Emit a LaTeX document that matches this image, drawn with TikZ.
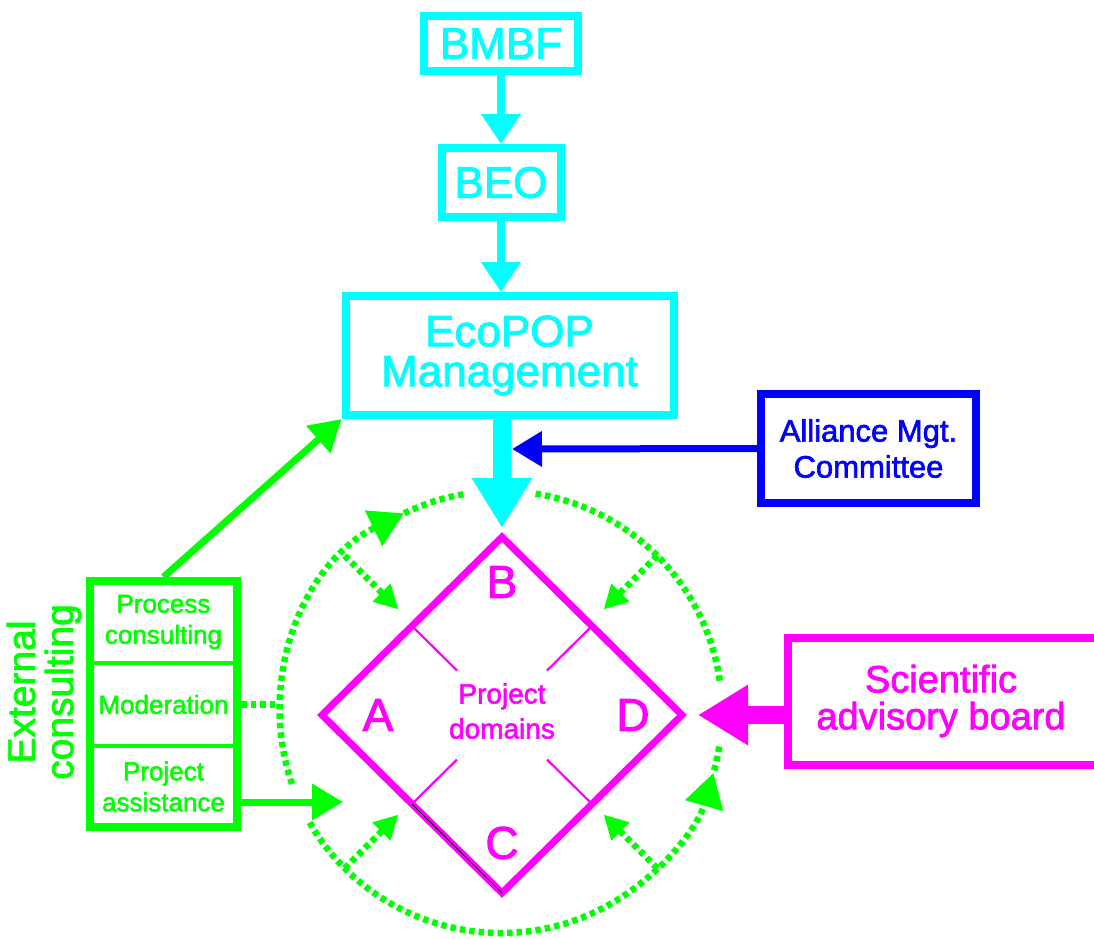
\documentclass[tikz,border=0pt]{standalone}
\usepackage{fontspec}
\setmainfont{Liberation Sans}[FakeBold=2]
\usetikzlibrary{positioning}
\usetikzlibrary{calc}
\usetikzlibrary{fit, shapes.geometric, arrows.meta}
\definecolor{ecocyan}{RGB}{0,255,255}
\definecolor{ecogreen}{RGB}{0,255,0}
\definecolor{ecomag}{RGB}{255,0,255}
\definecolor{ecoblue}{RGB}{0,0,255}
\tikzset{
	x=1pt, y=1pt,
	every node/.style={align=center, inner sep=0pt},
	cbox/.style={draw=ecocyan, text=ecocyan, line width=8pt, font=\fontsize{44}{40}\selectfont},
	bbox/.style={draw=ecoblue, text=ecoblue, line width=8pt, font=\fontsize{31}{36}\selectfont},
	mbox/.style={draw=ecomag, line width=7.5pt},
	mtext/.style={text=ecomag, font=\fontsize{38}{37}\selectfont},
	cell/.style={draw=ecogreen, text=ecogreen, line width=4pt, outer sep=0pt, minimum width=147pt, font=\fontsize{26}{31}\selectfont},
	corner/.style={text=ecomag, font=\fontsize{46}{46}\selectfont},
	cyanarrow/.style={draw=ecocyan, line width=8pt, -{Triangle[length=30pt, width=38pt]}},
	bigarrow/.style={line width=18pt, -{Triangle[length=50pt, width=57pt]}},
	bluearrow/.style={draw=ecoblue, line width=7pt, -{Triangle[length=30pt, width=34pt]}},
	greenarrow/.style={draw=ecogreen, line width=7pt, -{Triangle[length=31pt, width=35pt]}},
	ringline/.style={draw=ecogreen, line width=6.5pt, dash pattern=on 5.5pt off 4pt},
	ringtip/.style={-{Triangle[length=34pt, width=38pt]}},
	spoke/.style={ringline, -{Triangle[length=24pt, width=24pt]}}
}

\begin{document}
\begin{tikzpicture}
	\useasboundingbox (0,0) rectangle (1094,-938);

	% funding chain
	\node (bmbf) [cbox, minimum width=154, minimum height=55] at (501,-43.5) {BMBF};
	\node (beo) [cbox, minimum width=119, minimum height=69, below=69pt of bmbf] {BEO};
	\node (eco) [cbox, minimum width=328, minimum height=119, below=71pt of beo, xshift=8.5pt] {EcoPOP\\Management};
	\node (amc) [bbox, minimum width=215, minimum height=109] at (868.5,-448.5) {Alliance Mgt.\\Committee};

	% project domains
	\node (domains) [diamond, draw=ecomag, line width=7pt, outer sep=0pt, minimum width=360, minimum height=356] at (502,-715) {};
	\node [text=ecomag, font=\fontsize{28}{35}\selectfont] at (502,-711) {Project\\domains};
	\node [corner] at ([yshift=-45]domains.north) {B};
	\node [corner] at ([xshift=56]domains.west) {A};
	\node [corner] at ([xshift=-49]domains.east) {D};
	\node [corner] at ([yshift=50]domains.south) {C};
	\foreach \a/\b in {north/west, north/east, south/west, south/east}{
		\path ($(domains.\a)!0.5!(domains.\b)$) coordinate (m);
		\draw[ecomag, line width=2.2pt] (m) -- ($(m)!0.5!(domains.center)$);
	}
	\draw[black, line width=0.8pt] ($(domains.west)!0.5!(domains.south)$) -- (domains.south);

	% advisory board
	\node (sab) [mbox, minimum width=330, minimum height=127] at (953,-701.5) {};
	\node (sabtext) [mtext] at (941,-701) {Scientific\\advisory board};

	% external consulting
	\node (pc) [cell, minimum height=82] at (163.5,-622) {Process\\consulting};
	\node (mod) [cell, minimum height=83, below=0pt of pc] {Moderation};
	\node (pa) [cell, minimum height=81, below=0pt of mod] {Project\\assistance};
	\node (ext) [fit=(pc)(mod)(pa), draw=ecogreen, line width=8pt] {};
	\node [rotate=90, text=ecogreen, font=\fontsize{39}{38}\selectfont] at (44,-692) {External\\consulting};

	\coordinate (ring) at (501,-712);
	\coordinate (amctip) at (512,-449);
	\coordinate (patip) at (343,-802);
	\coordinate (modend) at (279,-704.5);

	% arrows
	\draw[cyanarrow] (bmbf) -- (beo);
	\draw[cyanarrow] (beo.south -| bmbf.south) -- (eco.north -| bmbf.south);
	\draw[bigarrow, draw=ecocyan, shorten >=9pt] (eco.south -| domains.north) -- (domains.north);
	\draw[bluearrow] (amc.west) -- (amctip);
	\draw[bigarrow, draw=ecomag, shorten >=16pt] (sab.west |- domains.east) -- (domains.east);
	\draw[greenarrow] (ext.north) -- (eco.south west);
	\draw[greenarrow] (ext.east |- patip) -- (patip);
	\draw[ringline] (ext.east |- mod.east) -- (modend);

	% dotted ring
	\draw[ringline, ringtip] ($(ring)+(199:221)$) arc[start angle=199, end angle=116, radius=221];
	\draw[ringline] ($(ring)+(116:221)$) arc[start angle=116, end angle=99, radius=221];
	\draw[ringline] ($(ring)+(81:221)$) arc[start angle=81, end angle=8, radius=221];
	\draw[ringline] ($(ring)+(-9:221)$) arc[start angle=-9, end angle=-16, radius=221];
	\draw[ringline, ringtip] ($(ring)+(-150:221)$) arc[start angle=-150, end angle=-16, radius=221];
	\foreach \t in {45, 135, 225, 315}
		\draw[spoke] ($(ring)+(\t:221)$) -- ($(ring)+(\t:145)$);
\end{tikzpicture}
\end{document}
